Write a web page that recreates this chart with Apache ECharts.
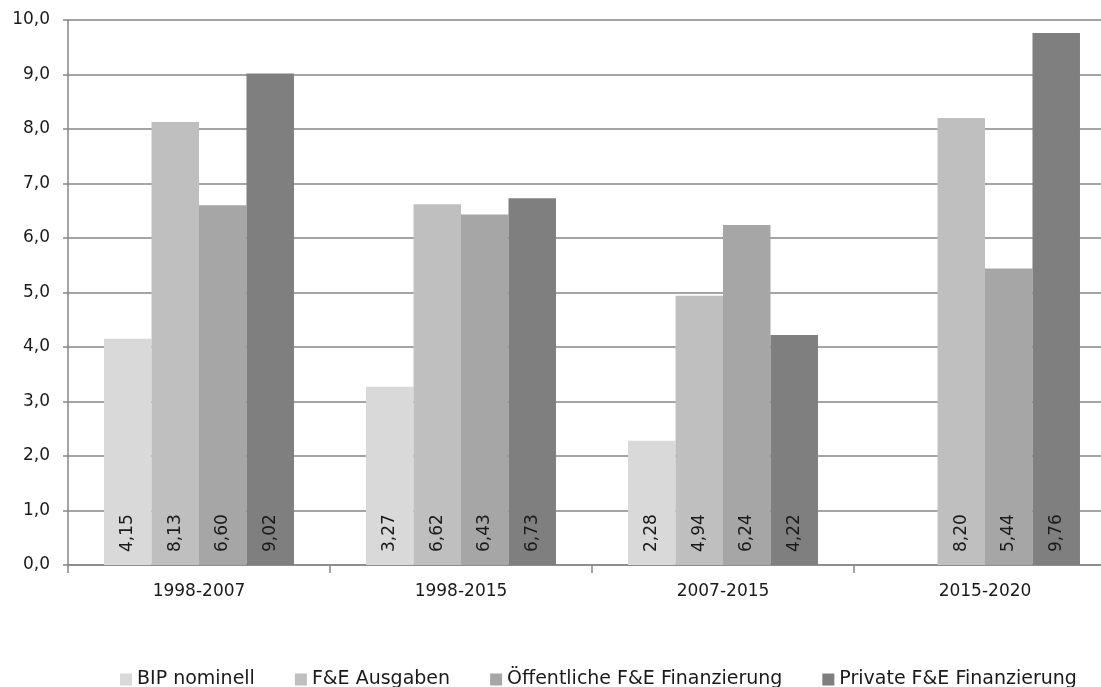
<!DOCTYPE html>
<html>
<head>
<meta charset="utf-8">
<script src="https://cdn.jsdelivr.net/npm/echarts@6/dist/echarts.min.js"></script>
<style>html,body{margin:0;padding:0;background:#fff;overflow:hidden;width:1101px;height:687px;}#c{width:1116px;height:687px;}</style>
</head>
<body>
<div id="c"></div>
<script>
const categories = ['1998-2007', '1998-2015', '2007-2015', '2015-2020'];
const seriesNames = ['BIP nominell', 'F&E Ausgaben', 'Öffentliche F&E Finanzierung', 'Private F&E Finanzierung'];
const bipNominell = [4.15, 3.27, 2.28, null];
const feAusgaben = [8.13, 6.62, 4.94, 8.20];
const oeffentlicheFE = [6.60, 6.43, 6.24, 5.44];
const privateFE = [9.02, 6.73, 4.22, 9.76];
const yTicks = [0, 1, 2, 3, 4, 5, 6, 7, 8, 9, 10];
const colors = ['#d9d9d9', '#bfbfbf', '#a6a6a6', '#7f7f7f'];

const FONT = 'DejaVu Sans';
const values = [bipNominell, feAusgaben, oeffentlicheFE, privateFE];

const chart = echarts.init(document.getElementById('c'));
chart.setOption({
  animation: false,
  textStyle: { fontFamily: FONT },
  grid: { left: 68, top: 20, right: 0, bottom: 122, containLabel: false },
  legend: {
    left: 120, top: 670, padding: 0,
    itemWidth: 12, itemHeight: 12, itemGap: 40,
    icon: 'rect',
    textStyle: { fontFamily: FONT, fontSize: 19, color: '#1a1a1a' },
    data: seriesNames
  },
  xAxis: {
    type: 'category',
    data: categories,
    axisLine: { lineStyle: { color: '#868686', width: 1.5 } },
    axisTick: { show: true, length: 8, interval: 0, lineStyle: { color: '#868686', width: 1.5 } },
    axisLabel: { fontFamily: FONT, fontSize: 17, color: '#1a1a1a', margin: 18 }
  },
  yAxis: {
    type: 'value',
    min: yTicks[0], max: yTicks[yTicks.length - 1], interval: 1,
    axisLine: { show: true, lineStyle: { color: '#868686', width: 1.5 } },
    axisTick: { show: true, length: 5, lineStyle: { color: '#868686', width: 1.5 } },
    splitLine: { show: true, lineStyle: { color: '#868686', width: 1.5 } },
    axisLabel: {
      fontFamily: FONT, fontSize: 17, color: '#1a1a1a', margin: 18,
      formatter: v => v.toFixed(1).replace('.', ',')
    }
  },
  series: seriesNames.map((name, i) => ({
    name: name,
    type: 'bar',
    data: values[i],
    barGap: '0%',
    barCategoryGap: '27.5%',
    itemStyle: { color: colors[i] },
    label: {
      show: true,
      position: 'insideBottom',
      rotate: 90,
      align: 'left',
      verticalAlign: 'middle',
      distance: 13,
      fontFamily: FONT,
      fontSize: 17,
      color: '#1a1a1a',
      formatter: p => (p.value == null ? '' : p.value.toFixed(2).replace('.', ','))
    }
  }))
});
</script>
</body>
</html>
